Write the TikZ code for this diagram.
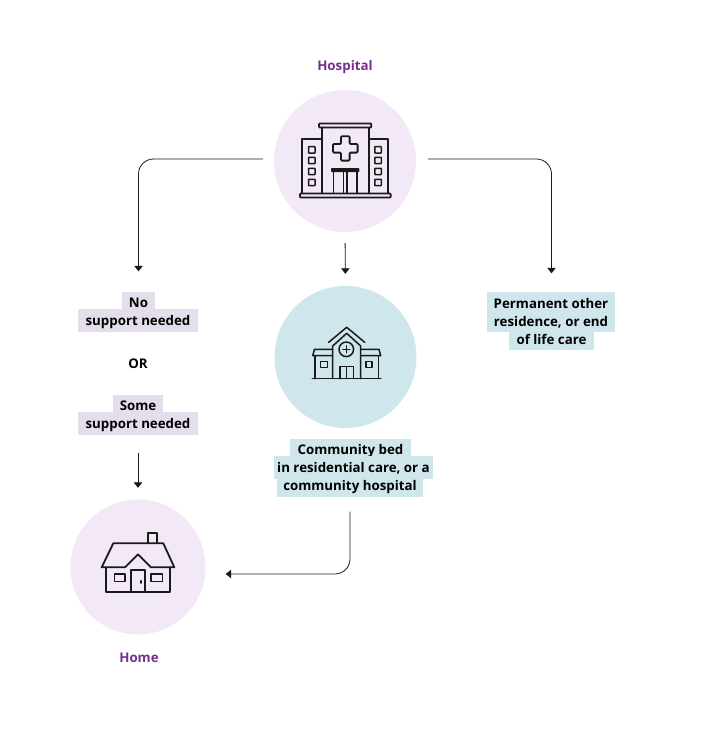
\documentclass[tikz,border=0pt]{standalone}
\usepackage{fontspec}
\setmainfont{Open Sans}
\usetikzlibrary{arrows.meta}
\definecolor{pinkbg}{HTML}{F3E8F5}
\definecolor{bluebg}{HTML}{CEE6EC}
\definecolor{lilacbg}{HTML}{E3DDEC}
\definecolor{purpletxt}{HTML}{772E90}
\definecolor{ink}{HTML}{1A1A1A}
\tikzset{
  disc/.style={circle,draw=none,inner sep=0pt},
  linelabel/.style={inner sep=0pt,text=black,text height=11pt,text depth=0.5pt,font=\fontsize{13.3}{15}\selectfont\bfseries},
  lilacline/.style={linelabel,fill=lilacbg},
  blueline/.style={linelabel,fill=bluebg},
  title/.style={inner sep=0pt,text=purpletxt,font=\fontsize{13.3}{15}\selectfont\bfseries},
  conn/.style={draw=ink,line width=0.8pt,rounded corners=15pt,-{Triangle[length=5.5pt,width=8.5pt]}},
  icon/.style={draw=ink,line width=1.8pt,line join=round,line cap=round},
  iconthin/.style={draw=ink,line width=1.5pt,line join=round,line cap=round},
  textdown/.style={text height=11pt+2*#1},
  textup/.style={text depth=0.5pt+2*#1},
}
\begin{document}
\begin{tikzpicture}[x=1pt,y=-1pt]
\useasboundingbox (0,0) rectangle (706,732);
\fill[white] (0,0) rectangle (706,732);

% discs
\node[disc,fill=pinkbg,minimum size=142pt] (hospital) at (345,161) {};
\node[disc,fill=bluebg,minimum size=142pt] (community) at (345.5,357) {};
\node[disc,fill=pinkbg,minimum size=135pt] (home) at (138,567) {};

% titles
\node[title] (hospitaltitle) at (345,67.5) {Hospital};
\node[title] (hometitle) at (139,658) {Home};

% left labels
\node[lilacline,textdown=1.5pt,minimum width=33pt,minimum height=18pt] (no) at (138.5,300.5) {No};
\node[lilacline,minimum width=120pt,minimum height=23pt] (support) at (138,320.5) {support needed};
\node[linelabel] (or) at (138,363) {OR};
\node[lilacline,textdown=1.5pt,minimum width=50pt,minimum height=18pt] (some) at (138,403.5) {Some};
\node[lilacline,minimum width=120pt,minimum height=23pt] (supporttwo) at (138,423.5) {support needed};

% community labels
\node[blueline,textdown=2pt,minimum width=121pt,minimum height=18pt] (comone) at (350.5,447.5) {Community bed};
\node[blueline,minimum width=159pt,minimum height=23pt] (comtwo) at (353.5,467.5) {in residential care, or a};
\node[blueline,textup=2pt,minimum width=146pt,minimum height=18pt] (comthree) at (350,487.5) {community hospital};

% permanent labels
\node[blueline,textdown=1pt,minimum width=128pt,minimum height=21pt] (permone) at (551,302) {Permanent other};
\node[blueline,textup=1pt,minimum width=128pt,minimum height=20pt] (permtwo) at (551,322) {residence, or end};
\node[blueline,textup=1pt,minimum width=85pt,minimum height=18pt] (permthree) at (551.5,340.5) {of life care};

% connectors
\draw[conn,shorten <=11pt,shorten >=20pt] ([yshift=2pt]hospital.west) -| (no.north);
\draw[conn,shorten <=12pt,shorten >=18pt] ([yshift=2pt]hospital.east) -| ([xshift=0.5pt]permone.north);
\draw[conn,shorten <=11pt,shorten >=12pt] (hospital.south) -- (community.north);
\draw[conn,shorten <=18pt,shorten >=11.5pt] (supporttwo.south) -- (supporttwo.south |- home.north);
\draw[conn,shorten <=15pt,shorten >=20pt] (comthree.south) |- ([yshift=-7pt]home.east);

% hospital icon
\draw[icon,rounded corners=0.8pt] (300,193.5) rectangle (390.7,197.5);
\draw[icon] (322.3,193.5) -- (322.3,127.5) (369,127.5) -- (369,193.5);
\draw[icon,rounded corners=0.8pt] (319,123.5) rectangle (371.3,127.5);
\draw[icon] (322.3,138.7) -- (302.3,138.7) -- (302.3,193.5) (369,138.7) -- (388,138.7) -- (388,193.5);
\foreach \yy in {146.7,157.3,168.3,179.3}{
  \draw[iconthin,rounded corners=0.5pt] (308.5,\yy) rectangle ++(6.5,6.3);
  \draw[iconthin,rounded corners=0.5pt] (374.8,\yy) rectangle ++(6.5,6.3);
}
\draw[icon,rounded corners=1pt] (341,136.2) -- (349.6,136.2) -- (349.6,144) -- (357.6,144) -- (357.6,152.6) -- (349.6,152.6) -- (349.6,160.6) -- (341,160.6) -- (341,152.6) -- (333,152.6) -- (333,144) -- (341,144) -- cycle;
\fill[ink,rounded corners=0.8pt] (331,168) rectangle (359.3,172);
\draw[iconthin] (333.5,172) -- (333.5,193.5) (357,172) -- (357,193.5) (343.7,172) -- (343.7,193.5) (347,172) -- (347,193.5);

% community icon
\draw[iconthin] (312.3,378.7) -- (381,378.7);
\draw[iconthin] (332.7,378.7) -- (332.7,346) -- (346.7,333.3) -- (360.7,346) -- (360.7,378.7);
\draw[iconthin] (328.7,342.3) -- (346.7,327.3) -- (364.7,342.3);
\draw[iconthin] (346.3,349.3) circle (7.3pt);
\draw[iconthin] (342.8,349.3) -- (349.8,349.3) (346.3,345.8) -- (346.3,352.8);
\draw[iconthin] (340,378.7) -- (340,366.7) -- (353.3,366.7) -- (353.3,378.7) (346.7,366.7) -- (346.7,378.7);
\draw[iconthin] (332.7,349.3) -- (314.5,349.3) -- (312.7,355.7) -- (332.7,355.7);
\draw[iconthin] (360.7,349.3) -- (379,349.3) -- (380.7,355.7) -- (360.7,355.7);
\draw[iconthin] (315,355.7) -- (315,378.7) (378.3,355.7) -- (378.3,378.7);
\draw[iconthin] (320.7,361.7) rectangle (327.3,367.7);
\draw[iconthin] (366,361.7) rectangle (372,367.7);

% home icon
\draw[icon] (125,567.3) -- (101.7,567.3) -- (113.3,543.3) -- (163.3,543.3) -- (174.3,567.3) -- (151,567.3) -- (138,554.3) -- cycle;
\draw[icon] (106,567.3) -- (106,591.7) -- (170,591.7) -- (170,567.3);
\draw[icon] (131.3,591.7) -- (131.3,570) -- (144.7,570) -- (144.7,591.7);
\draw[iconthin] (141,580.7) -- (141,583);
\draw[iconthin] (114.3,574) rectangle (125,581.7);
\draw[iconthin] (151,574) rectangle (162.3,581.7);
\draw[icon] (148.3,543.3) -- (148.3,533.3) -- (157.3,533.3) -- (157.3,543.3);
\end{tikzpicture}
\end{document}
